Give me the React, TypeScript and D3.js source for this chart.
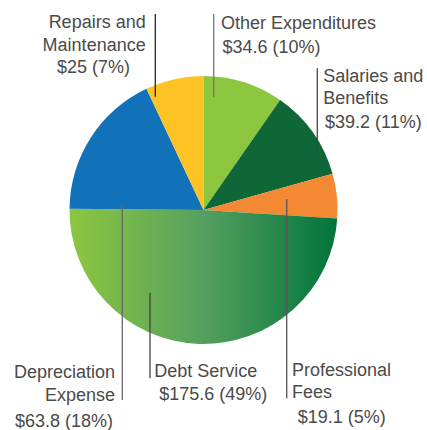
import React from "react";
import * as d3 from "d3";

const categories = [
  "Other Expenditures",
  "Salaries and Benefits",
  "Professional Fees",
  "Debt Service",
  "Depreciation Expense",
  "Repairs and Maintenance",
];
const amounts = [34.6, 39.2, 19.1, 175.6, 63.8, 25];
const percentLabels = ["10%", "11%", "5%", "49%", "18%", "7%"];
const amountLabels = ["$34.6", "$39.2", "$19.1", "$175.6", "$63.8", "$25"];
const colors = ["#8cc63f", "#0f6636", "#f38a33", "url(#debtGrad)", "#1172b9", "#fdc223"];

// label layout: text lines with anchor positions, leader line
type Line = { text: string; x: number; y: number; anchor: "start" | "end" | "middle" };
const labelLayout: { lines: (i: number) => Line[]; leader: [number, number, number]; stroke: string }[] = [
  {
    lines: (i) => [
      { text: "Other Expenditures", x: 221, y: 28.5, anchor: "start" },
      { text: `${amountLabels[i]} (${percentLabels[i]})`, x: 222.5, y: 52.5, anchor: "start" },
    ],
    leader: [213.7, 14, 97],
    stroke: "#777",
  },
  {
    lines: (i) => [
      { text: "Salaries and", x: 323.3, y: 81.7, anchor: "start" },
      { text: "Benefits", x: 323.3, y: 104.3, anchor: "start" },
      { text: `${amountLabels[i]} (${percentLabels[i]})`, x: 325, y: 128.3, anchor: "start" },
    ],
    leader: [317.3, 68.3, 150],
    stroke: "#444",
  },
  {
    lines: (i) => [
      { text: "Professional", x: 292, y: 376, anchor: "start" },
      { text: "Fees", x: 292, y: 398.3, anchor: "start" },
      { text: `${amountLabels[i]} (${percentLabels[i]})`, x: 297.7, y: 422.7, anchor: "start" },
    ],
    leader: [286.7, 199, 398.3],
    stroke: "#555",
  },
  {
    lines: (i) => [
      { text: "Debt Service", x: 154.3, y: 376.7, anchor: "start" },
      { text: `${amountLabels[i]} (${percentLabels[i]})`, x: 159.3, y: 400, anchor: "start" },
    ],
    leader: [150, 292.7, 378.3],
    stroke: "#444",
  },
  {
    lines: (i) => [
      { text: "Depreciation", x: 115, y: 377.7, anchor: "end" },
      { text: "Expense", x: 115, y: 400.7, anchor: "end" },
      { text: `${amountLabels[i]} (${percentLabels[i]})`, x: 15, y: 426.7, anchor: "start" },
    ],
    leader: [122.3, 205, 400],
    stroke: "#666",
  },
  {
    lines: (i) => [
      { text: "Repairs and", x: 145.7, y: 28.3, anchor: "end" },
      { text: "Maintenance", x: 145.7, y: 51, anchor: "end" },
      { text: `${amountLabels[i]} (${percentLabels[i]})`, x: 57, y: 72.7, anchor: "start" },
    ],
    leader: [155.3, 14, 96.7],
    stroke: "#222",
  },
];

export default function App() {
  const width = 427;
  const height = 430;
  const cx = 203.5;
  const cy = 210;
  const r = 134;

  const pie = d3.pie<number>().sort(null).value((d) => d);
  const arcs = pie(amounts);
  const arc = d3.arc<d3.PieArcDatum<number>>().innerRadius(0).outerRadius(r);

  return (
    <svg
      width={width}
      height={height}
      style={{ position: "absolute", left: 0, top: 0 }}
      fontFamily="'Liberation Sans', Arial, sans-serif"
    >
      <defs>
        <linearGradient id="debtGrad" gradientUnits="userSpaceOnUse" x1={-r} y1={0} x2={r} y2={0}>
          <stop offset="0%" stopColor="#8dc63f" />
          <stop offset="50%" stopColor="#55a060" />
          <stop offset="100%" stopColor="#00743a" />
        </linearGradient>
      </defs>
      <rect width={width} height={height} fill="#fff" />
      <g transform={`translate(${cx},${cy})`}>
        {arcs.map((a, i) => (
          <path key={categories[i]} d={arc(a) || ""} fill={colors[i]} />
        ))}
      </g>
      {labelLayout.map((l, i) => (
        <g key={categories[i]}>
          <line
            x1={l.leader[0]}
            x2={l.leader[0]}
            y1={l.leader[1]}
            y2={l.leader[2]}
            stroke={l.stroke}
            strokeWidth={1.3}
          />
          {l.lines(i).map((t, j) => (
            <text key={j} x={t.x} y={t.y} textAnchor={t.anchor} fontSize={18} fill="#4a4a4a">
              {t.text}
            </text>
          ))}
        </g>
      ))}
    </svg>
  );
}
